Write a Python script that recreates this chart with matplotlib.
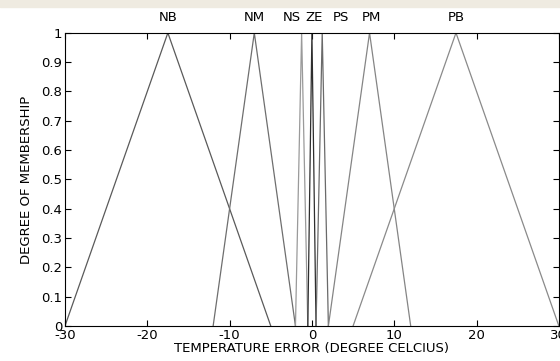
import numpy as np
import matplotlib.pyplot as plt

# Fuzzy sets of the temperature error (triangular: left foot, peak, right foot)
names = ['NB', 'NM', 'NS', 'ZE', 'PS', 'PM', 'PB']
params = [[-30, -17.5, -5],
          [-12, -7, -2],
          [-2, -1.25, -0.5],
          [-0.5, 0, 0.5],
          [0.5, 1.25, 2],
          [2, 7, 12],
          [5, 17.5, 30]]
label_x = [-17.5, -7, -2.5, 0.2, 3.5, 7.2, 17.5]
colors = ['#5a5a5a', '#6e6e6e', '#9a9a9a', '#2e2e2e', '#6a6a6a', '#858585', '#8a8a8a']

plt.rcParams['font.family'] = ['DejaVu Sans']
plt.rcParams['axes.unicode_minus'] = False

fig = plt.figure(figsize=(5.6, 3.61), dpi=100)
ax = fig.add_axes([0.116, 0.097, 0.882, 0.812])

for p, c in zip(params, colors):
    ax.plot(p, [0, 1, 0], color=c, lw=0.9)

for n, lx in zip(names, label_x):
    ax.text(lx, 1.03, n, ha='center', va='bottom', fontsize=9.5)

ax.set_xlim(-30, 30)
ax.set_ylim(0, 1)
ax.set_xticks(np.arange(-30, 31, 10))
ax.set_yticks(np.arange(0, 1.01, 0.1))
ax.set_yticklabels(['0', '0.1', '0.2', '0.3', '0.4', '0.5', '0.6', '0.7', '0.8', '0.9', '1'])
ax.tick_params(direction='in', top=True, right=True, labelsize=9.5, length=4, pad=2)
ax.set_xlabel('TEMPERATURE ERROR (DEGREE CELCIUS)', fontsize=9.5, labelpad=0)
ax.set_ylabel('DEGREE OF MEMBERSHIP', fontsize=9.5, labelpad=6)

# faint band along the top edge of the scan
fig.patches.append(plt.Rectangle((0, 0.98), 1, 0.02, transform=fig.transFigure,
                                 color='#efebe1', zorder=0))

fig.savefig('out.png', dpi=100)
